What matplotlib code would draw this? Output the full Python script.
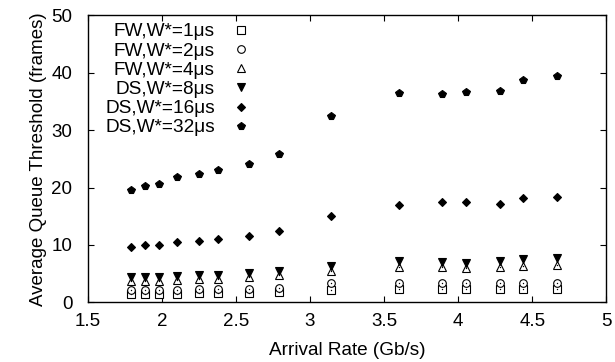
import matplotlib
matplotlib.use("Agg")
import matplotlib.pyplot as plt

plt.rcParams['font.family'] = ['Liberation Sans', 'DejaVu Sans']

rates = [1.79, 1.89, 1.98, 2.10, 2.25, 2.38, 2.59, 2.79, 3.14, 3.60, 3.89, 4.05, 4.28, 4.44, 4.67]

fw1 = [1.5, 1.5, 1.5, 1.5, 1.6, 1.6, 1.7, 1.8, 2.2, 2.3, 2.3, 2.3, 2.3, 2.3, 2.3]
fw2 = [2.2, 2.2, 2.2, 2.2, 2.3, 2.3, 2.4, 2.5, 3.3, 3.4, 3.4, 3.4, 3.4, 3.4, 3.4]
fw4 = [3.7, 3.7, 3.7, 3.9, 4.0, 4.1, 4.4, 4.8, 5.5, 6.2, 6.1, 6.0, 6.2, 6.3, 6.5]
ds8 = [4.4, 4.4, 4.4, 4.6, 4.7, 4.8, 5.1, 5.5, 6.4, 7.2, 7.0, 6.8, 7.2, 7.6, 7.7]
ds16 = [9.7, 9.95, 10.0, 10.5, 10.75, 11.05, 11.6, 12.4, 15.1, 17.0, 17.45, 17.4, 17.15, 18.15, 18.4]
ds32 = [19.6, 20.35, 20.6, 21.9, 22.3, 23.1, 24.1, 25.9, 32.4, 36.5, 36.3, 36.7, 36.75, 38.7, 39.4]

labels = ["FW,W*=1\u03bcs", "FW,W*=2\u03bcs", "FW,W*=4\u03bcs",
          "DS,W*=8\u03bcs", "DS,W*=16\u03bcs", "DS,W*=32\u03bcs"]

xticks = [1.5, 2, 2.5, 3, 3.5, 4, 4.5, 5]
xticklabels = ["1.5", "2", "2.5", "3", "3.5", "4", "4.5", "5"]
yticks = [0, 10, 20, 30, 40, 50]

fig = plt.figure(figsize=(6.15, 3.62), dpi=100)
ax = fig.add_axes([0.1426, 0.1649, 0.8434, 0.7925])

series = [fw1, fw2, fw4, ds8, ds16, ds32]
styles = [
    dict(marker='s', mfc='white', ms=5.5),
    dict(marker='o', mfc='white', ms=5.5),
    dict(marker='^', mfc='white', ms=6),
    dict(marker='v', mfc='black', ms=6),
    dict(marker='D', mfc='black', ms=4.5),
    dict(marker='p', mfc='black', ms=6),
]
for ys, lab, st in zip(series, labels, styles):
    ax.plot(rates, ys, linestyle='none', color='black', mec='black', mew=0.8,
            label=lab, **st)
    if st['mfc'] == 'white':
        ax.plot(rates, ys, linestyle='none', marker='o', ms=1.0, color='black', mew=0)

ax.set_xlim(1.5, 5)
ax.set_ylim(0, 50)
ax.set_xticks(xticks)
ax.set_xticklabels(xticklabels)
ax.set_yticks(yticks)
ax.tick_params(direction='in', top=True, right=True, length=4, width=0.8, labelsize=13.5)
ax.tick_params(axis='x', pad=8)
ax.tick_params(axis='y', pad=11)
for s in ax.spines.values():
    s.set_linewidth(1.0)

ax.set_xlabel("Arrival Rate (Gb/s)", fontsize=13.7, labelpad=8)
ax.set_ylabel("Average Queue Threshold (frames)", fontsize=13.5, labelpad=3)

leg = ax.legend(loc='upper right', bbox_to_anchor=(0.333, 1.0), frameon=False,
                markerfirst=False, fontsize=13.7, handlelength=1.2,
                labelspacing=0.1, handletextpad=0.8, borderaxespad=0.0)
for t in leg.get_texts():
    t.set_ha('right')
leg._legend_box.align = 'right'

fig.savefig("out.png", dpi=100)
